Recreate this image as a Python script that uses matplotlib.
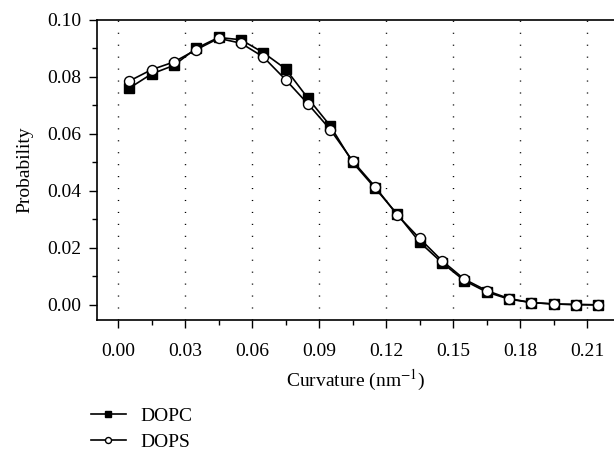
import matplotlib
matplotlib.use('Agg')
import matplotlib.pyplot as plt
from matplotlib.ticker import MultipleLocator

plt.rcParams['font.family'] = ['Liberation Serif', 'DejaVu Serif']
plt.rcParams['mathtext.fontset'] = 'stix'

curvature = [0.005, 0.015, 0.025, 0.035, 0.045, 0.055, 0.065, 0.075, 0.085, 0.095,
             0.105, 0.115, 0.125, 0.135, 0.145, 0.155, 0.165, 0.175, 0.185, 0.195,
             0.205, 0.215]
dopc = [0.0760, 0.0810, 0.0840, 0.0900, 0.0938, 0.0930, 0.0885, 0.0828, 0.0725, 0.0628,
        0.0500, 0.0410, 0.0318, 0.0220, 0.0148, 0.0085, 0.0045, 0.0020, 0.0008, 0.0003,
        0.0001, 0.0000]
dops = [0.0785, 0.0825, 0.0852, 0.0895, 0.0935, 0.0918, 0.0870, 0.0790, 0.0705, 0.0615,
        0.0505, 0.0415, 0.0315, 0.0233, 0.0155, 0.0090, 0.0050, 0.0022, 0.0008, 0.0003,
        0.0001, 0.0000]

fig = plt.figure(figsize=(6.14, 4.5), dpi=100)
ax = fig.add_axes([0.158, 0.289, 0.842, 0.667])

ax.plot(curvature, dopc, '-', color='black', lw=1.2, marker='s', ms=6.5,
        mfc='black', mec='black', label='DOPC', clip_on=False)
ax.plot(curvature, dops, '-', color='black', lw=1.2, marker='o', ms=7.2,
        mfc='white', mec='black', mew=1.0, label='DOPS', clip_on=False)

ax.set_xlim(-0.0094, 0.222)
ax.set_ylim(-0.0053, 0.10)
ax.xaxis.set_major_locator(MultipleLocator(0.03))
ax.xaxis.set_minor_locator(MultipleLocator(0.015))
ax.yaxis.set_major_locator(MultipleLocator(0.02))
ax.yaxis.set_minor_locator(MultipleLocator(0.01))
ax.xaxis.set_major_formatter(plt.FormatStrFormatter('%.2f'))
ax.yaxis.set_major_formatter(plt.FormatStrFormatter('%.2f'))
ax.tick_params(which='both', direction='out', top=False, right=False, labelsize=14)
ax.tick_params(which='major', length=5.5, width=1)
ax.tick_params(which='minor', length=3.5, width=1)
ax.tick_params(axis='x', which='major', pad=11)
ax.tick_params(axis='y', which='major', pad=6)
ax.grid(axis='x', which='major', linestyle=(0, (0.8, 7.8)), color='black', lw=1)
ax.spines['right'].set_visible(False)
for s in ['left', 'bottom', 'top']:
    ax.spines[s].set_linewidth(1.2)

ax.set_xlabel('Curvature (nm$^{-1}$)', fontsize=14, labelpad=6)
ax.set_ylabel('Probability', fontsize=14, labelpad=10)

ax.legend(loc='center left', bbox_to_anchor=(0.148, 0.046), bbox_transform=fig.transFigure,
          frameon=False, fontsize=14, markerscale=0.6, handlelength=1.8,
          labelspacing=0.42, handletextpad=0.75, borderaxespad=0, borderpad=0)

fig.savefig('out.png', dpi=100)
